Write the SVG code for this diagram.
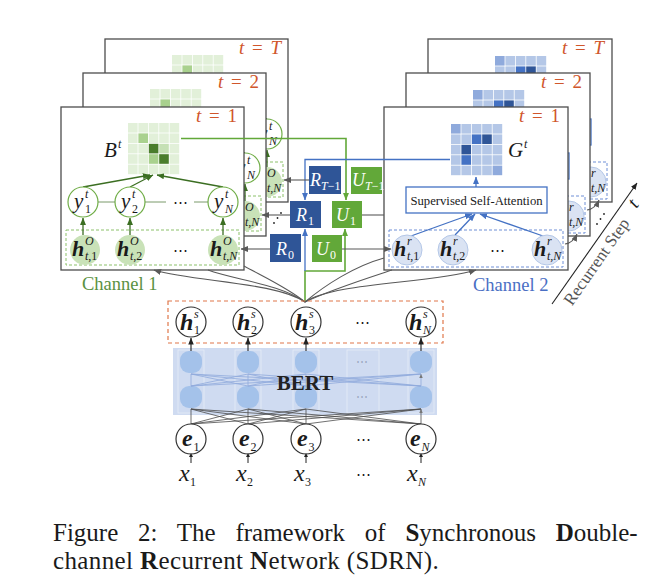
<svg xmlns="http://www.w3.org/2000/svg" width="648" height="583" viewBox="0 0 648 583" font-family="'Liberation Serif', 'Times New Roman', serif">
<style>
text{font-family:"Liberation Serif","Times New Roman",serif;fill:#1a1a1a}
.fr{fill:#fff;stroke:#4d4d4d;stroke-width:1.3}
.tl{font-size:19px;fill:#d0562b;word-spacing:3px}
.mi{font-style:italic}
.ym{font-style:italic;font-size:21px}
.hb{font-style:italic;font-weight:bold;font-size:22px}
.hs{font-style:italic;font-weight:bold;font-size:24px}
.sc{font-size:12px;font-style:italic;font-weight:normal}
.su{font-size:12px;font-style:normal;font-weight:normal}
.gL{fill:#e2f0d9}.gM{fill:#a9d18e}.gD{fill:#4a7d2c}.gLM{fill:#c5e0b4}
.bL{fill:#b4c7e7}.bM{fill:#8faadc}.bMD{fill:#4472c4}.bD{fill:#2f5597}
.yc{fill:#fff;stroke:#70ad47;stroke-width:1.2}
.oc{fill:#c9e2b8}
.rc{fill:#dae3f3;stroke:#b4c7e7;stroke-width:1}
.gdash{fill:none;stroke:#8cc16a;stroke-width:1;stroke-dasharray:3 2}
.bdash{fill:none;stroke:#6e8fd6;stroke-width:1;stroke-dasharray:3 2}
.odash{fill:none;stroke:#e0774a;stroke-width:1.2;stroke-dasharray:4 3}
.ssa{fill:#fff;stroke:#4472c4;stroke-width:1.3}
.nc{fill:#fff;stroke:#333;stroke-width:1.2}
.rb{fill:#2f5597}.ub{fill:#62a839}
.bt{fill:#fff;font-size:18px;font-style:italic}
.bt .su,.bt .sc{fill:#fff}
.dg{fill:none;stroke:#3b6e22;stroke-width:1.3}
.bl{fill:none;stroke:#4472c4;stroke-width:1.3}
.gy{fill:none;stroke:#595959;stroke-width:1.1}
.k{fill:none;stroke:#222;stroke-width:1.1}
.chain{fill:none;stroke:#7a9a6a;stroke-width:1}
.neu{fill:#a4c2ea}
.col{fill:none;stroke:#e6edf8;stroke-width:0.8}
.xb{stroke:#8faadc;stroke-width:0.8;fill:none}
.xk{stroke:#4d4d4d;stroke-width:0.8;fill:none}
.dots{font-family:"DejaVu Serif",serif;font-size:15px}
</style>
<defs>
<marker id="mg" viewBox="0 0 10 8" refX="9.5" refY="4" markerWidth="7.5" markerHeight="6" markerUnits="userSpaceOnUse" orient="auto"><path d="M0,0L10,4L0,8z" fill="#595959"/></marker>
<marker id="mdg" viewBox="0 0 10 8" refX="9.5" refY="4" markerWidth="7.5" markerHeight="6" markerUnits="userSpaceOnUse" orient="auto"><path d="M0,0L10,4L0,8z" fill="#3b6e22"/></marker>
<marker id="mb" viewBox="0 0 10 8" refX="9.5" refY="4" markerWidth="7.5" markerHeight="6" markerUnits="userSpaceOnUse" orient="auto"><path d="M0,0L10,4L0,8z" fill="#4472c4"/></marker>
<marker id="mgr" viewBox="0 0 10 8" refX="9.5" refY="4" markerWidth="7.5" markerHeight="6" markerUnits="userSpaceOnUse" orient="auto"><path d="M0,0L10,4L0,8z" fill="#62a839"/></marker>
<marker id="mk" viewBox="0 0 10 8" refX="9.5" refY="4" markerWidth="7" markerHeight="5.5" markerUnits="userSpaceOnUse" orient="auto"><path d="M0,0L10,4L0,8z" fill="#222"/></marker>
<marker id="ms" viewBox="0 0 10 8" refX="9.5" refY="4" markerWidth="4.5" markerHeight="3.6" markerUnits="userSpaceOnUse" orient="auto"><path d="M0,0L10,4L0,8z" fill="#777"/></marker>
<g id="gG">
<rect class="gL" x="0" y="0" width="9.6" height="9.6"/><rect class="gL" x="10.4" y="0" width="9.6" height="9.6"/><rect class="gL" x="20.8" y="0" width="9.6" height="9.6"/><rect class="gL" x="31.2" y="0" width="9.6" height="9.6"/><rect class="gL" x="41.6" y="0" width="9.6" height="9.6"/>
<rect class="gL" x="0" y="10.4" width="9.6" height="9.6"/><rect class="gM" x="10.4" y="10.4" width="9.6" height="9.6"/><rect class="gL" x="20.8" y="10.4" width="9.6" height="9.6"/><rect class="gL" x="31.2" y="10.4" width="9.6" height="9.6"/><rect class="gL" x="41.6" y="10.4" width="9.6" height="9.6"/>
<rect class="gL" x="0" y="20.8" width="9.6" height="9.6"/><rect class="gL" x="10.4" y="20.8" width="9.6" height="9.6"/><rect class="gD" x="20.8" y="20.8" width="9.6" height="9.6"/><rect class="gLM" x="31.2" y="20.8" width="9.6" height="9.6"/><rect class="gL" x="41.6" y="20.8" width="9.6" height="9.6"/>
<rect class="gL" x="0" y="31.2" width="9.6" height="9.6"/><rect class="gL" x="10.4" y="31.2" width="9.6" height="9.6"/><rect class="gM" x="20.8" y="31.2" width="9.6" height="9.6"/><rect class="gD" x="31.2" y="31.2" width="9.6" height="9.6"/><rect class="gL" x="41.6" y="31.2" width="9.6" height="9.6"/>
<rect class="gL" x="0" y="41.6" width="9.6" height="9.6"/><rect class="gL" x="10.4" y="41.6" width="9.6" height="9.6"/><rect class="gL" x="20.8" y="41.6" width="9.6" height="9.6"/><rect class="gL" x="31.2" y="41.6" width="9.6" height="9.6"/><rect class="gL" x="41.6" y="41.6" width="9.6" height="9.6"/>
</g>
<g id="gB">
<rect class="bM" x="0" y="0" width="9.6" height="9.6"/><rect class="bL" x="10.4" y="0" width="9.6" height="9.6"/><rect class="bL" x="20.8" y="0" width="9.6" height="9.6"/><rect class="bL" x="31.2" y="0" width="9.6" height="9.6"/><rect class="bL" x="41.6" y="0" width="9.6" height="9.6"/>
<rect class="bL" x="0" y="10.4" width="9.6" height="9.6"/><rect class="bL" x="10.4" y="10.4" width="9.6" height="9.6"/><rect class="bMD" x="20.8" y="10.4" width="9.6" height="9.6"/><rect class="bD" x="31.2" y="10.4" width="9.6" height="9.6"/><rect class="bL" x="41.6" y="10.4" width="9.6" height="9.6"/>
<rect class="bL" x="0" y="20.8" width="9.6" height="9.6"/><rect class="bD" x="10.4" y="20.8" width="9.6" height="9.6"/><rect class="bL" x="20.8" y="20.8" width="9.6" height="9.6"/><rect class="bL" x="31.2" y="20.8" width="9.6" height="9.6"/><rect class="bL" x="41.6" y="20.8" width="9.6" height="9.6"/>
<rect class="bL" x="0" y="31.2" width="9.6" height="9.6"/><rect class="bMD" x="10.4" y="31.2" width="9.6" height="9.6"/><rect class="bL" x="20.8" y="31.2" width="9.6" height="9.6"/><rect class="bL" x="31.2" y="31.2" width="9.6" height="9.6"/><rect class="bL" x="41.6" y="31.2" width="9.6" height="9.6"/>
<rect class="bL" x="0" y="41.6" width="9.6" height="9.6"/><rect class="bL" x="10.4" y="41.6" width="9.6" height="9.6"/><rect class="bL" x="20.8" y="41.6" width="9.6" height="9.6"/><rect class="bL" x="31.2" y="41.6" width="9.6" height="9.6"/><rect class="bM" x="41.6" y="41.6" width="9.6" height="9.6"/>
</g>
<g id="ltail">
<use href="#gG" transform="translate(128,123)"/>
<rect class="gdash" x="66" y="230" width="173" height="35"/>
<path class="dg" d="M223,187L157,175" marker-end="url(#mdg)"/>
<path class="chain" d="M194,202H208"/>
<circle class="yc" cx="223" cy="202" r="15"/>
<text class="ym" x="214" y="208">y<tspan class="sc" x="225" y="198">t</tspan><tspan class="sc" x="225" y="213">N</tspan></text>
<path class="dg" d="M223,235V218" marker-end="url(#mdg)"/>
<circle class="oc" cx="223" cy="250" r="15"/>
<text class="hb" x="210" y="256">h<tspan class="sc" x="223" y="245">O</tspan><tspan class="sc" x="223" y="260">t,N</tspan></text>
</g>
<g id="rtail">
<use href="#gB" transform="translate(451,124)"/>
<path class="bl" d="M476,187V177" marker-end="url(#mb)"/>
<rect class="ssa" x="406" y="187" width="141" height="26"/>
<rect class="bdash" x="389" y="230" width="174" height="37"/>
<path class="bl" d="M543,236L480,214" marker-end="url(#mb)"/>
<circle class="rc" cx="547" cy="250" r="15"/>
<text class="hb" x="534" y="256">h<tspan class="sc" x="547" y="245">r</tspan><tspan class="sc" x="547" y="260">t,N</tspan></text>
</g>
</defs>

<!-- back frames -->
<g id="frameL-T">
<rect class="fr" x="105" y="39" width="183" height="163"/>
<use href="#ltail" transform="translate(44,-68)"/>
<text class="tl" x="281" y="54" text-anchor="end"><tspan class="mi">t</tspan> = <tspan class="mi">T</tspan></text>
</g>
<g id="frameL-2">
<rect class="fr" x="83" y="73" width="183" height="163"/>
<use href="#ltail" transform="translate(22,-34)"/>
<text class="tl" x="259" y="88" text-anchor="end"><tspan class="mi">t</tspan> = 2</text>
</g>
<g id="frameR-T">
<rect class="fr" x="428" y="39" width="184" height="163"/>
<use href="#rtail" transform="translate(44,-68)"/>
<text class="tl" x="604" y="54" text-anchor="end"><tspan class="mi">t</tspan> = <tspan class="mi">T</tspan></text>
</g>
<g id="frameR-2">
<rect class="fr" x="406" y="73" width="184" height="163"/>
<use href="#rtail" transform="translate(22,-34)"/>
<text class="tl" x="582" y="88" text-anchor="end"><tspan class="mi">t</tspan> = 2</text>
</g>

<!-- front left frame: channel 1 -->
<g id="frameL-1">
<rect class="fr" x="61" y="107" width="183" height="163"/>
<text class="tl" x="237" y="122" text-anchor="end"><tspan class="mi">t</tspan> = 1</text>
<g id="B-grid"><use href="#gG" transform="translate(128,123)"/>
<text class="mi" x="104" y="157" font-size="21">B<tspan class="sc" x="118" y="148" font-size="13">t</tspan></text></g>
<rect class="gdash" x="66" y="230" width="173" height="35"/>
<path class="chain" d="M98,202H115M145,202H166M194,202H208"/>
<path class="dg" d="M83,187L150,175" marker-end="url(#mdg)"/>
<path class="dg" d="M130,187L153,175" marker-end="url(#mdg)"/>
<path class="dg" d="M223,187L157,175" marker-end="url(#mdg)"/>
<path class="dg" d="M83,235V218" marker-end="url(#mdg)"/>
<path class="dg" d="M130,235V218" marker-end="url(#mdg)"/>
<path class="dg" d="M223,235V218" marker-end="url(#mdg)"/>
<g id="y1"><circle class="yc" cx="83" cy="202" r="15"/><text class="ym" x="74" y="208">y<tspan class="sc" x="85" y="198">t</tspan><tspan class="su" x="85" y="213">1</tspan></text></g>
<g id="y2"><circle class="yc" cx="130" cy="202" r="15"/><text class="ym" x="121" y="208">y<tspan class="sc" x="132" y="198">t</tspan><tspan class="su" x="132" y="213">2</tspan></text></g>
<text class="dots" x="180" y="207" text-anchor="middle">⋯</text>
<g id="yN"><circle class="yc" cx="223" cy="202" r="15"/><text class="ym" x="214" y="208">y<tspan class="sc" x="225" y="198">t</tspan><tspan class="sc" x="225" y="213">N</tspan></text></g>
<g id="hO1"><circle class="oc" cx="85" cy="250" r="15"/><text class="hb" x="72" y="256">h<tspan class="sc" x="85" y="245">O</tspan><tspan class="su" x="85" y="260"><tspan class="sc">t</tspan>,1</tspan></text></g>
<g id="hO2"><circle class="oc" cx="130" cy="250" r="15"/><text class="hb" x="117" y="256">h<tspan class="sc" x="130" y="245">O</tspan><tspan class="su" x="130" y="260"><tspan class="sc">t</tspan>,2</tspan></text></g>
<text class="dots" x="180" y="255" text-anchor="middle">⋯</text>
<g id="hON"><circle class="oc" cx="223" cy="250" r="15"/><text class="hb" x="210" y="256">h<tspan class="sc" x="223" y="245">O</tspan><tspan class="sc" x="223" y="260">t,N</tspan></text></g>
</g>
<text id="channel1" x="82" y="290" font-size="18.5" style="fill:#5a9141">Channel 1</text>

<!-- front right frame: channel 2 -->
<g id="frameR-1">
<rect class="fr" x="384" y="107" width="184" height="163"/>
<text class="tl" x="560" y="122" text-anchor="end"><tspan class="mi">t</tspan> = 1</text>
<g id="G-grid"><use href="#gB" transform="translate(451,124)"/>
<text class="mi" x="508" y="157" font-size="21">G<tspan class="sc" x="524" y="148" font-size="13">t</tspan></text></g>
<path class="bl" d="M476,187V177" marker-end="url(#mb)"/>
<g id="ssa"><rect class="ssa" x="406" y="187" width="141" height="26"/>
<text x="476.5" y="204.5" font-size="12.7" text-anchor="middle">Supervised Self-Attention</text></g>
<rect class="bdash" x="389" y="230" width="174" height="37"/>
<path class="bl" d="M411,236L472,214" marker-end="url(#mb)"/>
<path class="bl" d="M455,235L475,214" marker-end="url(#mb)"/>
<path class="bl" d="M543,236L480,214" marker-end="url(#mb)"/>
<g id="hr1"><circle class="rc" cx="407" cy="250" r="15"/><text class="hb" x="394" y="256">h<tspan class="sc" x="407" y="245">r</tspan><tspan class="su" x="407" y="260"><tspan class="sc">t</tspan>,1</tspan></text></g>
<g id="hr2"><circle class="rc" cx="453" cy="250" r="15"/><text class="hb" x="440" y="256">h<tspan class="sc" x="453" y="245">r</tspan><tspan class="su" x="453" y="260"><tspan class="sc">t</tspan>,2</tspan></text></g>
<text class="dots" x="497" y="255" text-anchor="middle">⋯</text>
<g id="hrN"><circle class="rc" cx="547" cy="250" r="15"/><text class="hb" x="534" y="256">h<tspan class="sc" x="547" y="245">r</tspan><tspan class="sc" x="547" y="260">t,N</tspan></text></g>
</g>
<text id="channel2" x="473" y="291" font-size="18.5" style="fill:#4a6fc4">Channel 2</text>

<!-- connectors -->
<g id="connectors">
<path d="M181,138.5H346V200" fill="none" stroke="#62a839" stroke-width="1.6" marker-end="url(#mgr)"/>
<path class="bl" d="M450,159.5H305V200" marker-end="url(#mb)"/>
<path d="M305,302V271H345V229" fill="none" stroke="#62a839" stroke-width="1.6" marker-end="url(#mgr)"/>
<path class="bl" d="M305,271V229" marker-end="url(#mb)"/>
<path class="gy" d="M309,180H284" marker-end="url(#mg)"/>
<path class="gy" d="M290,215H262" marker-end="url(#mg)"/>
<path class="gy" d="M270,249H241" marker-end="url(#mg)"/>
<path class="gy" d="M362,215H384"/>
<path class="gy" d="M342,249H391" marker-end="url(#mg)"/>
<path class="gy" d="M305,302C275,282 195,282 154,270" marker-end="url(#mg)"/>
<path class="gy" d="M305,302C280,284 235,280 208,270"/>
<path class="gy" d="M305,302C288,288 262,276 244,266"/>
<path class="gy" d="M305,302C335,282 430,284 476,270" marker-end="url(#mg)"/>
<path class="gy" d="M305,302C325,285 355,266 384,258"/>
<path class="gy" d="M305,302C330,290 368,278 392,270"/>
<path class="gy" d="M565,244Q573,243 577,234" marker-end="url(#mg)"/>
<path class="gy" d="M587,210Q595,209 599,200" marker-end="url(#mg)"/>
<g fill="#222"><circle cx="274" cy="223" r="0.9"/><circle cx="277.5" cy="218" r="0.9"/><circle cx="281" cy="213" r="0.9"/>
<circle cx="597" cy="224" r="0.9"/><circle cx="600.5" cy="219" r="0.9"/><circle cx="604" cy="214" r="0.9"/></g>
</g>

<!-- R / U boxes -->
<g id="R_T-1"><rect class="rb" x="309" y="166" width="32" height="28"/><text class="bt" x="310" y="186">R<tspan class="sc" x="321" y="190">T</tspan><tspan class="su">−1</tspan></text></g>
<g id="U_T-1"><rect class="ub" x="351" y="167" width="31" height="27"/><text class="bt" x="352" y="186">U<tspan class="sc" x="365" y="190">T</tspan><tspan class="su">−1</tspan></text></g>
<g id="R_1"><rect class="rb" x="290" y="201" width="31" height="27"/><text class="bt" x="296" y="221">R<tspan class="su" x="308" y="225">1</tspan></text></g>
<g id="U_1"><rect class="ub" x="332" y="201" width="30" height="27"/><text class="bt" x="336" y="221">U<tspan class="su" x="350" y="225">1</tspan></text></g>
<g id="R_0"><rect class="rb" x="270" y="234" width="31" height="28"/><text class="bt" x="276" y="255">R<tspan class="su" x="288" y="259">0</tspan></text></g>
<g id="U_0"><rect class="ub" x="312" y="235" width="30" height="27"/><text class="bt" x="316" y="255">U<tspan class="su" x="330" y="259">0</tspan></text></g>

<!-- shared encoder -->
<rect class="odash" x="168" y="301" width="275" height="42"/>
<g id="hs1"><circle class="nc" cx="191" cy="322" r="15"/><text class="hs" x="180" y="330">h<tspan class="sc" x="194" y="318" font-size="13">s</tspan><tspan class="su" x="194" y="334" font-size="13">1</tspan></text></g>
<g id="hs2"><circle class="nc" cx="248" cy="322" r="15"/><text class="hs" x="237" y="330">h<tspan class="sc" x="251" y="318" font-size="13">s</tspan><tspan class="su" x="251" y="334" font-size="13">2</tspan></text></g>
<g id="hs3"><circle class="nc" cx="306" cy="322" r="15"/><text class="hs" x="295" y="330">h<tspan class="sc" x="309" y="318" font-size="13">s</tspan><tspan class="su" x="309" y="334" font-size="13">3</tspan></text></g>
<text class="dots" x="362" y="327" text-anchor="middle">⋯</text>
<g id="hsN"><circle class="nc" cx="421" cy="322" r="15"/><text class="hs" x="409" y="330">h<tspan class="sc" x="423" y="318" font-size="13">s</tspan><tspan class="sc" x="423" y="334" font-size="13">N</tspan></text></g>

<g id="bert">
<rect x="173" y="348" width="264" height="67" fill="#cfdbf1"/>
<g class="col"><rect x="178" y="350" width="26" height="63"/><rect x="235" y="350" width="26" height="63"/><rect x="293" y="350" width="26" height="63"/><rect x="347" y="350" width="32" height="63"/><rect x="408" y="350" width="26" height="63"/></g>
<g class="neu"><rect x="180" y="351" width="22" height="22" rx="9"/><rect x="237" y="351" width="22" height="22" rx="9"/><rect x="295" y="351" width="22" height="22" rx="9"/><rect x="410" y="351" width="22" height="22" rx="9"/>
<rect x="180" y="386" width="22" height="22" rx="9"/><rect x="237" y="386" width="22" height="22" rx="9"/><rect x="295" y="386" width="22" height="22" rx="9"/><rect x="410" y="386" width="22" height="22" rx="9"/></g>
<path class="xb" d="M191,386L248,374M191,386L306,374M191,386L421,374M248,386L191,374M248,386L306,374M248,386L421,374M306,386L191,374M306,386L248,374M306,386L421,374M421,386L191,374M421,386L248,374M421,386L306,374"/>
<path class="xb" d="M191,386V374M248,386V374M306,386V374M421,386V374" marker-end="url(#ms)"/>
<text x="362" y="366" font-size="12" text-anchor="middle" style="font-family:'DejaVu Serif',serif;fill:#9aa8c0">⋯</text>
<text x="362" y="401" font-size="12" text-anchor="middle" style="font-family:'DejaVu Serif',serif;fill:#9aa8c0">⋯</text>
<text x="305" y="390" font-size="21" font-weight="bold" text-anchor="middle" style="fill:#222">BERT</text>
</g>
<path class="xk" d="M191,424L248,409M191,424L306,409M191,424L421,409M248,424L191,409M248,424L306,409M248,424L421,409M306,424L191,409M306,424L248,409M306,424L421,409M421,424L191,409M421,424L248,409M421,424L306,409"/>
<path class="xk" d="M191,424V409M248,424V409M306,424V409M421,424V409" marker-end="url(#ms)"/>
<g id="bert-out">
<path class="k" d="M191,351V338" marker-end="url(#mk)"/>
<path class="k" d="M248,351V338" marker-end="url(#mk)"/>
<path class="k" d="M306,351V338" marker-end="url(#mk)"/>
<path class="k" d="M421,351V338" marker-end="url(#mk)"/>
</g>

<g id="e1"><circle class="nc" cx="191" cy="439" r="15"/><text class="hs" x="182" y="446">e<tspan class="su" x="193.5" y="451" font-size="13">1</tspan></text></g>
<g id="e2"><circle class="nc" cx="248" cy="439" r="15"/><text class="hs" x="239" y="446">e<tspan class="su" x="250.5" y="451" font-size="13">2</tspan></text></g>
<g id="e3"><circle class="nc" cx="306" cy="439" r="15"/><text class="hs" x="297" y="446">e<tspan class="su" x="308.5" y="451" font-size="13">3</tspan></text></g>
<text class="dots" x="363" y="444" text-anchor="middle">⋯</text>
<g id="eN"><circle class="nc" cx="421" cy="439" r="15"/><text class="hs" x="410" y="446">e<tspan class="sc" x="421.5" y="451" font-size="13">N</tspan></text></g>

<g id="inputs">
<path d="M191,463V455M248,463V455M306,463V455M421,463V455" stroke="#222" stroke-width="1" fill="none"/>
<path d="M189,457L191,453L193,457ZM246,457L248,453L250,457ZM304,457L306,453L308,457ZM419,457L421,453L423,457Z" fill="#222"/>
<text class="mi" x="179" y="481" font-size="24">x<tspan class="su" x="190" y="486" font-size="14">1</tspan></text>
<text class="mi" x="236" y="481" font-size="24">x<tspan class="su" x="247" y="486" font-size="14">2</tspan></text>
<text class="mi" x="294" y="481" font-size="24">x<tspan class="su" x="305" y="486" font-size="14">3</tspan></text>
<text class="dots" x="363" y="479" text-anchor="middle">⋯</text>
<text class="mi" x="407" y="481" font-size="24">x<tspan class="sc" x="418" y="486" font-size="14">N</tspan></text>
</g>

<g id="recurrent-step">
<path d="M552,304L637,183" stroke="#222" stroke-width="1.1" fill="none" marker-end="url(#mk)"/>
<text transform="translate(597,262) rotate(-55)" y="5" font-size="17" text-anchor="middle" style="fill:#555">Recurrent Step</text>
<text transform="translate(634,204) rotate(-55)" y="5" font-size="19" font-style="italic" text-anchor="middle">t</text>
</g>

<g id="caption">
<text x="53" y="541" font-size="25" word-spacing="13.5">Figure 2: The framework of <tspan font-weight="bold">S</tspan>ynchronous <tspan font-weight="bold">D</tspan>ouble-</text>
<text x="53" y="569" font-size="25" letter-spacing="0.38">channel <tspan font-weight="bold">R</tspan>ecurrent <tspan font-weight="bold">N</tspan>etwork (SDRN).</text>
</g>
</svg>
